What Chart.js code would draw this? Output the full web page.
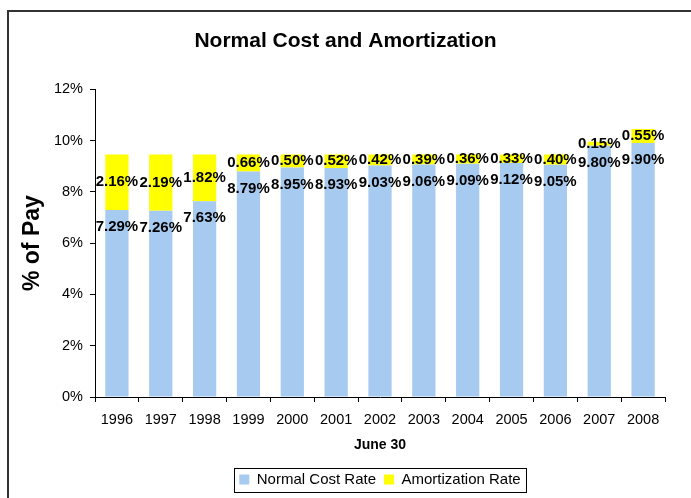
<!DOCTYPE html>
<html>
<head>
<meta charset="utf-8">
<script src="https://cdn.jsdelivr.net/npm/chart.js@4.4.0/dist/chart.umd.min.js"></script>
<style>
  html, body { margin: 0; background: #fff; overflow: hidden; }
  #wrap { position: absolute; left: 0; top: 0; width: 691px; height: 498px; }
</style>
</head>
<body>
<div id="wrap"><canvas id="chart"></canvas></div>
<script>
const years = ['1996', '1997', '1998', '1999', '2000', '2001', '2002', '2003', '2004', '2005', '2006', '2007', '2008'];
const normalCost = [7.29, 7.26, 7.63, 8.79, 8.95, 8.93, 9.03, 9.06, 9.09, 9.12, 9.05, 9.80, 9.90];
const amortization = [2.16, 2.19, 1.82, 0.66, 0.50, 0.52, 0.42, 0.39, 0.36, 0.33, 0.40, 0.15, 0.55];
const yTicks = [0, 2, 4, 6, 8, 10, 12];

const FONT = 'Arial, "Liberation Sans", sans-serif';

// value labels: normal cost just under the top, amortization centred in its piece
const barLabels = {
  id: 'barLabels',
  afterDatasetsDraw(chart) {
    const ctx = chart.ctx;
    ctx.save();
    ctx.font = 'bold 15px ' + FONT;
    ctx.fillStyle = '#000';
    ctx.textAlign = 'center';
    ctx.textBaseline = 'middle';
    chart.data.datasets.forEach((ds, di) => {
      chart.getDatasetMeta(di).data.forEach((bar, i) => {
        const txt = ds.data[i].toFixed(2) + '%';
        const y = di === 0 ? bar.y + 17 : (bar.y + bar.base) / 2;
        ctx.fillText(txt, bar.x, y);
      });
    });
    ctx.restore();
  }
};

// chart frame (top and left edge only are in view)
const frame = {
  id: 'frame',
  beforeDraw(chart) {
    const ctx = chart.ctx;
    ctx.save();
    ctx.strokeStyle = '#333';
    ctx.lineWidth = 2;
    ctx.beginPath();
    ctx.moveTo(8, chart.height);
    ctx.lineTo(8, 11);
    ctx.lineTo(chart.width, 11);
    ctx.stroke();
    ctx.restore();
  }
};

// title centred on the canvas, legend centred under the plot area with a box round it
const legendBox = {
  id: 'legendBox',
  afterUpdate(chart) {
    const tb = chart.titleBlock;
    if (tb) {
      const s = chart.width / 2 - (tb.left + tb.right) / 2;
      tb.left += s;
      tb.right += s;
    }
    const lg = chart.legend;
    if (!lg) return;
    const shift = (chart.chartArea.left + chart.chartArea.right) / 2 - (lg.left + lg.right) / 2;
    lg.left += shift;
    lg.right += shift;
    lg.legendHitBoxes.forEach(b => { b.left += shift; });
  },
  afterDraw(chart) {
    const boxes = chart.legend && chart.legend.legendHitBoxes;
    if (!boxes || !boxes.length) return;
    const l = Math.min(...boxes.map(b => b.left));
    const r = Math.max(...boxes.map(b => b.left + b.width));
    const t = Math.min(...boxes.map(b => b.top));
    const b = Math.max(...boxes.map(b => b.top + b.height));
    const ctx = chart.ctx;
    ctx.save();
    ctx.strokeStyle = '#000';
    ctx.lineWidth = 1;
    ctx.strokeRect(Math.round(l - 5) + 0.5, Math.round(t - 4.5) + 0.5, Math.round(r - l + 11), Math.round(b - t + 9));
    ctx.restore();
  }
};

new Chart(document.getElementById('chart'), {
  type: 'bar',
  data: {
    labels: years,
    datasets: [{
      label: 'Normal Cost Rate',
      data: normalCost,
      backgroundColor: '#A6CAF0',
      borderWidth: 0
    }, {
      label: 'Amortization Rate',
      data: amortization,
      backgroundColor: '#FFFF00',
      borderWidth: 0
    }]
  },
  options: {
    responsive: true,
    maintainAspectRatio: false,
    animation: false,
    datasets: { bar: { barPercentage: 0.53, categoryPercentage: 1.0 } },
    layout: { padding: { left: 0, right: 26, top: 0, bottom: 1 } },
    scales: {
      x: {
        stacked: true,
        grid: { drawOnChartArea: false, tickLength: 5, color: '#000' },
        border: { color: '#000', width: 1 },
        ticks: { color: '#000', padding: 9, maxRotation: 0, font: { family: FONT, size: 14.5 } },
        title: {
          display: true, text: 'June 30', color: '#000',
          font: { family: FONT, size: 14, weight: 'bold' },
          padding: { top: 4, bottom: 10 }
        },
        afterFit(scale) { scale.height = 67; }
      },
      y: {
        stacked: true,
        min: 0, max: 12,
        afterBuildTicks(scale) { scale.ticks = yTicks.map(v => ({ value: v })); },
        grid: { drawOnChartArea: false, tickLength: 5, color: '#000' },
        border: { color: '#000', width: 1 },
        ticks: { color: '#000', padding: 7, font: { family: FONT, size: 14.5 }, callback: v => v + '%' },
        title: {
          display: true, text: '% of Pay', color: '#000',
          font: { family: FONT, size: 23, weight: 'bold' },
          padding: { top: 19, bottom: 0 }
        },
        afterFit(scale) { scale.width = 95; }
      }
    },
    plugins: {
      title: {
        display: true,
        text: 'Normal Cost and Amortization',
        color: '#000',
        font: { family: FONT, size: 21, weight: 'bold' },
        padding: { top: 29, bottom: 35 }
      },
      legend: {
        position: 'bottom',
        labels: {
          color: '#000',
          boxWidth: 10,
          boxHeight: 10,
          padding: 8,
          font: { family: FONT, size: 15 }
        }
      },
      tooltip: { enabled: false }
    }
  },
  plugins: [frame, barLabels, legendBox]
});
</script>
</body>
</html>
